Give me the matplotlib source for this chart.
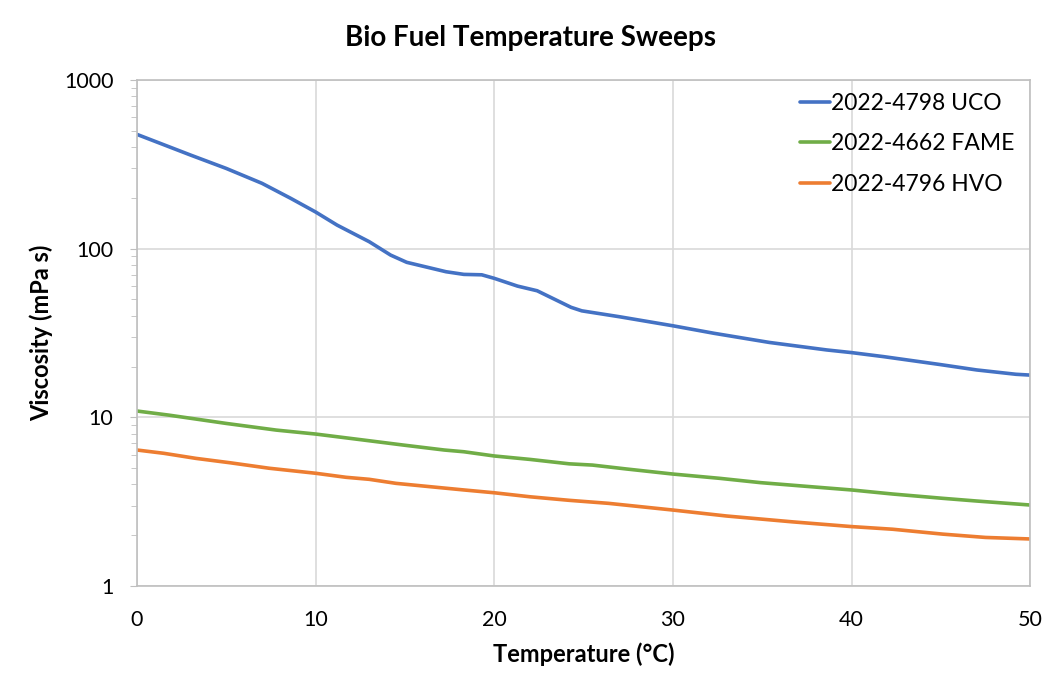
import numpy as np
import matplotlib.pyplot as plt
from matplotlib.ticker import LogLocator, NullFormatter, FixedLocator

plt.rcParams['font.family'] = ['Lato', 'DejaVu Sans']

# temperature sweep readings
temp_uco = [0, 3, 5, 7, 8.6, 10, 11.2, 13, 14.2, 15.1, 17.3, 18.3, 19.3, 20, 21.3, 22.4,
            24.3, 24.9, 27, 30, 32.3, 35.4, 38.6, 40, 41.8, 44.9, 47, 49.2, 50]
visc_uco = [476, 359, 299, 244, 199, 165, 138, 110, 91.6, 83, 73, 70.4, 70, 66.7, 60, 56.3,
            44.9, 42.8, 39.5, 34.9, 31.5, 27.8, 25.1, 24.2, 22.9, 20.6, 19.1, 18.0, 17.8]

temp_fame = [0, 1.8, 5, 7.8, 10, 12.7, 14.9, 17.2, 18.3, 20, 22, 24.2, 25.5, 27.4, 30,
             32.6, 34.9, 37.7, 40, 42.3, 45.1, 47, 50]
visc_fame = [10.9, 10.3, 9.2, 8.4, 7.96, 7.33, 6.85, 6.4, 6.25, 5.9, 5.63, 5.3, 5.21, 4.94, 4.61,
             4.35, 4.10, 3.88, 3.71, 3.51, 3.31, 3.19, 3.02]

temp_hvo = [0, 1.5, 3.3, 5.2, 7.4, 10, 11.7, 13, 14.5, 16.4, 18.3, 20, 22, 24.2, 26.4, 30,
            33, 36.7, 40, 42.3, 45.1, 47.5, 50]
visc_hvo = [6.4, 6.12, 5.71, 5.38, 4.99, 4.66, 4.41, 4.29, 4.06, 3.88, 3.71, 3.57, 3.38, 3.22,
            3.09, 2.82, 2.60, 2.40, 2.25, 2.17, 2.03, 1.94, 1.90]

labels = ['2022-4798 UCO', '2022-4662 FAME', '2022-4796 HVO']
colors = ['#4472C4', '#70AD47', '#ED7D31']

fig = plt.figure(figsize=(10.48, 6.84), dpi=100)
ax = fig.add_axes([0.1307, 0.1433, 0.8523, 0.7397])

for t, v, lab, c in zip([temp_uco, temp_fame, temp_hvo], [visc_uco, visc_fame, visc_hvo], labels, colors):
    ax.plot(t, v, color=c, lw=2.6, label=lab, solid_capstyle='round')

ax.set_yscale('log')
ax.set_ylim(1, 1000)
ax.set_xlim(0, 50)
ax.xaxis.set_major_locator(FixedLocator([0, 10, 20, 30, 40, 50]))
ax.yaxis.set_major_locator(FixedLocator([1, 10, 100, 1000]))
ax.set_yticklabels(['1', '10', '100', '1000'])
ax.yaxis.set_minor_locator(LogLocator(base=10, subs=np.arange(2, 10)))
ax.yaxis.set_minor_formatter(NullFormatter())

ax.grid(True, which='major', color='#d9d9d9', lw=1.2)
ax.set_axisbelow(True)
for s in ax.spines.values():
    s.set_color('#bfbfbf')
    s.set_linewidth(1.2)
ax.tick_params(axis='x', length=0, labelsize=15.5, pad=17, colors='#000000')
ax.tick_params(axis='y', which='major', length=5, color='#bfbfbf', labelsize=15.5, pad=12)
ax.tick_params(axis='y', which='minor', length=4, color='#bfbfbf')

ax.set_xlabel('Temperature (°C)', fontsize=17, fontweight='bold', labelpad=9)
ax.set_ylabel('Viscosity (mPa s)', fontsize=17, fontweight='bold', labelpad=8)
fig.text(0.506, 0.944, 'Bio Fuel Temperature Sweeps', ha='center', va='center',
         fontsize=20, fontweight='bold')

ax.legend(loc='upper right', bbox_to_anchor=(0.993, 0.993), borderaxespad=0,
          frameon=False, fontsize=16.5, handlelength=1.3,
          handletextpad=0.05, labelspacing=0.85)

fig.savefig('out.png', dpi=100)
